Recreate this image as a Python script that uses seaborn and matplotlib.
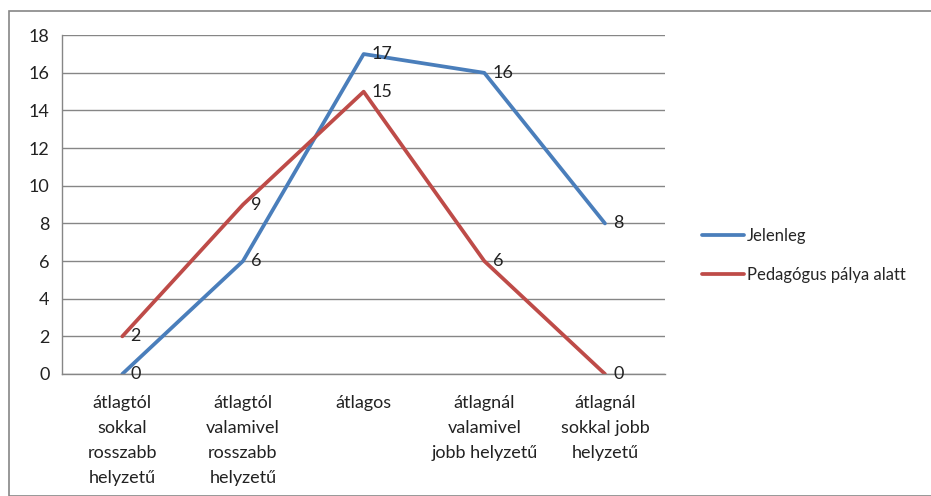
import matplotlib
matplotlib.use("Agg")
import matplotlib.pyplot as plt
import seaborn as sns
import pandas as pd
from matplotlib.patches import Rectangle

categories = ["átlagtól\nsokkal\nrosszabb\nhelyzetű",
              "átlagtól\nvalamivel\nrosszabb\nhelyzetű",
              "átlagos",
              "átlagnál\nvalamivel\njobb helyzetű",
              "átlagnál\nsokkal jobb\nhelyzetű"]
jelenleg = [0, 6, 17, 16, 8]
pedagogus = [2, 9, 15, 6, 0]
series_names = ["Jelenleg", "Pedagógus pálya alatt"]
colors = ["#4A7EBB", "#BE4B48"]

df = pd.DataFrame({
    "pos": list(range(len(categories))) * 2,
    "ertek": jelenleg + pedagogus,
    "sorozat": [series_names[0]] * 5 + [series_names[1]] * 5,
})

sns.set_style("white")
plt.rcParams["font.family"] = ["Lato", "DejaVu Sans"]
fs = 13

fig = plt.figure(figsize=(9.31, 4.96), dpi=100)
ax = fig.add_axes([0.0666, 0.246, 0.648, 0.683])

sns.lineplot(data=df, x="pos", y="ertek", hue="sorozat", palette=colors,
             linewidth=2.7, ax=ax, legend=False)

# data labels to the right of each point
for vals in (jelenleg, pedagogus):
    for i, v in enumerate(vals):
        ax.annotate(str(v), (i, v), xytext=(6, 0), textcoords="offset points",
                    ha="left", va="center", color="#222222", fontsize=fs)

ax.set_xlim(-0.5, 4.5)
ax.set_ylim(0, 18)
ax.set_yticks(range(0, 19, 2))
ax.set_xticks(range(5))
ax.set_xticklabels(categories, color="#222222", fontsize=fs, linespacing=1.7)
ax.set_yticklabels([str(v) for v in range(0, 19, 2)], color="#222222", fontsize=fs)
ax.set_xticks([x - 0.5 for x in range(6)], minor=True)
ax.tick_params(axis="x", which="major", length=0, pad=15)
ax.tick_params(axis="x", which="minor", length=6, color="#868686", width=1)
ax.tick_params(axis="y", length=5, color="#868686", width=1, pad=4)
ax.set_xlabel("")
ax.set_ylabel("")
ax.grid(axis="y", color="#868686", linewidth=1)
for s in ["top", "right"]:
    ax.spines[s].set_visible(False)
for s in ["left", "bottom"]:
    ax.spines[s].set_color("#868686")
    ax.spines[s].set_linewidth(1)

handles = [plt.Line2D([], [], color=c, linewidth=2.7) for c in colors]
fig.legend(handles, series_names, loc="upper left", bbox_to_anchor=(0.738, 0.57),
           frameon=False, handlelength=2.5, handletextpad=0.2, labelspacing=1.35,
           fontsize=12)

fig.patches.append(Rectangle((9 / 931, 0), 1, 1 - 11 / 496, transform=fig.transFigure,
                             fill=False, edgecolor="#868686", linewidth=1.2))

fig.savefig("out.png", dpi=100)
